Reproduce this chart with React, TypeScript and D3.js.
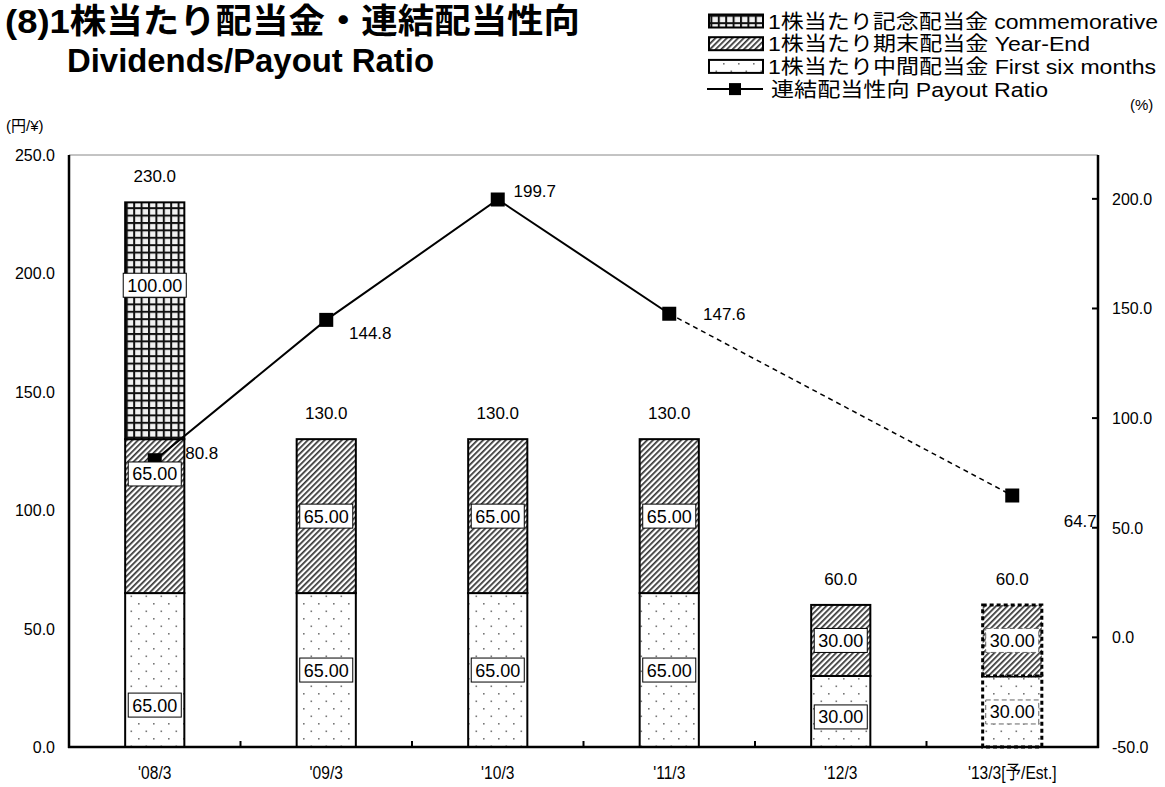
import React from "react";
import * as d3 from "d3";

const categories = ["'08/3", "'09/3", "'10/3", "'11/3", "'12/3", "'13/3[予/Est.]"];
const interimDiv = [65, 65, 65, 65, 30, 30];
const yearEndDiv = [65, 65, 65, 65, 30, 30];
const commemorativeDiv = [100, 0, 0, 0, 0, 0];
const totalDiv = [230, 130, 130, 130, 60, 60];
const isEstimate = [false, false, false, false, false, true];
const payoutRatio: (number | null)[] = [80.8, 144.8, 199.7, 147.6, null, 64.7];
const leftTicks = [0, 50, 100, 150, 200, 250];
const rightTicks = [-50, 0, 50, 100, 150, 200];
// where (in yen) each segment's value label sits
const interimLabelAt = [17.7, 32.5, 32.5, 32.5, 12.7, 14.8];
const yearEndLabelAt = [115.3, 97.5, 97.5, 97.5, 45, 45];
const commemorativeLabelAt = [195, 0, 0, 0, 0, 0];

const legendItems = [
  { label: "1株当たり記念配当金 commemorative", fill: "url(#pGrid)", kind: "box", len: 390 },
  { label: "1株当たり期末配当金 Year-End", fill: "url(#pHatch)", kind: "box", len: 322 },
  { label: "1株当たり中間配当金 First six months", fill: "url(#pDots)", kind: "box", len: 388 },
  { label: "連結配当性向 Payout Ratio", fill: "none", kind: "line", len: 277 },
];

// label offsets from the marker (px), style only
const ratioLabelOffsets: [number, number][] = [[47, -7], [44, 13], [37, -9], [55, 0], [0, 0], [68, 25]];

const FONT = "'Liberation Sans', Arial, 'Noto Sans CJK JP', sans-serif";

function textW(s: string, size: number) {
  let w = 0;
  for (const ch of s) {
    if (ch === ".") w += 0.278;
    else w += 0.556;
  }
  return w * size;
}

export default function App() {
  const W = 1165, H = 787;
  const x = d3.scaleBand<string>().domain(categories).range([69, 1098]).padding(0);
  const yL = d3.scaleLinear().domain([0, 250]).range([747, 155]);
  const yR = d3.scaleLinear().domain([-50, 220]).range([747, 155]);
  const bw = x.bandwidth() * 0.345;
  const cx = (i: number) => (x(categories[i]) as number) + x.bandwidth() / 2;

  const actualPts: [number, number][] = [];
  const estPts: [number, number][] = [];
  payoutRatio.forEach((v, i) => {
    if (v == null) return;
    if (!isEstimate[i]) actualPts.push([cx(i), yR(v)]);
  });
  const lastActual = actualPts[actualPts.length - 1];
  estPts.push(lastActual);
  payoutRatio.forEach((v, i) => {
    if (v != null && isEstimate[i]) estPts.push([cx(i), yR(v)]);
  });
  const line = d3.line<[number, number]>().x((d) => d[0]).y((d) => d[1]);

  const bars: any[] = [];
  const labels: any[] = [];
  categories.forEach((c, i) => {
    const x0 = cx(i) - bw / 2;
    const est = isEstimate[i];
    const segs = [
      { lo: 0, hi: interimDiv[i], fill: "url(#pDots)", v: interimDiv[i], at: interimLabelAt[i] },
      { lo: interimDiv[i], hi: interimDiv[i] + yearEndDiv[i], fill: "url(#pHatch)", v: yearEndDiv[i], at: yearEndLabelAt[i] },
      {
        lo: interimDiv[i] + yearEndDiv[i],
        hi: interimDiv[i] + yearEndDiv[i] + commemorativeDiv[i],
        fill: "url(#pGrid)",
        v: commemorativeDiv[i],
        at: commemorativeLabelAt[i],
      },
    ].filter((s) => s.v > 0);
    segs.forEach((s, k) => {
      bars.push(
        <rect
          key={`b${i}-${k}`}
          x={x0}
          y={yL(s.hi)}
          width={bw}
          height={yL(s.lo) - yL(s.hi)}
          fill={s.fill}
          stroke="#000"
          strokeWidth={est ? 3 : 2}
          strokeDasharray={est ? "4 3" : undefined}
        />
      );
    });
    segs.forEach((s, k) => {
      const t = s.v.toFixed(2);
      const tw = textW(t, 18) + 8;
      const yy = yL(s.at);
      labels.push(
        <g key={`l${i}-${k}`}>
          <rect
            x={cx(i) - tw / 2}
            y={yy - 12}
            width={tw}
            height={24}
            fill="#fff"
            stroke={est ? "#666" : "#000"}
            strokeWidth={1}
            strokeDasharray={est ? "5 3" : undefined}
          />
          <text x={cx(i)} y={yy + 6.5} textAnchor="middle" fontSize={18} fontFamily={FONT}>
            {t}
          </text>
        </g>
      );
    });
    labels.push(
      <text key={`t${i}`} x={cx(i)} y={yL(totalDiv[i]) - 20} textAnchor="middle" fontSize={17} fontFamily={FONT}>
        {totalDiv[i].toFixed(1)}
      </text>
    );
  });

  return (
    <svg width={W} height={H} style={{ position: "absolute", left: 0, top: 0, background: "#fff" }}>
      <defs>
        <pattern id="pGrid" patternUnits="userSpaceOnUse" width={7.4} height={7.4}>
          <rect width={7.4} height={7.4} fill="#111" />
          <rect x={2} y={2} width={5.4} height={5.4} fill="#f2f2f2" />
        </pattern>
        <pattern id="pHatch" patternUnits="userSpaceOnUse" width={4} height={4} patternTransform="rotate(45)">
          <rect width={4} height={4} fill="#fff" />
          <rect width={1.7} height={4} fill="#333" />
        </pattern>
        <pattern id="pDots" patternUnits="userSpaceOnUse" width={15} height={15}>
          <rect width={15} height={15} fill="#fff" />
          <rect x={3} y={3} width={1.6} height={1.6} fill="#777" />
          <rect x={10.5} y={10.5} width={1.6} height={1.6} fill="#777" />
        </pattern>
      </defs>

      {/* Title */}
      <text x={5} y={33} fontSize={34} fontWeight="bold" fontFamily={FONT} textLength={575} lengthAdjust="spacingAndGlyphs">
        (8)1株当たり配当金・連結配当性向
      </text>
      <text x={67} y={72} fontSize={33} fontWeight="bold" fontFamily={FONT} textLength={367} lengthAdjust="spacingAndGlyphs">
        Dividends/Payout Ratio
      </text>

      {/* Legend */}
      {legendItems.map((it, i) => {
        const yc = 21 + i * 22.7;
        return (
          <g key={`lg${i}`}>
            {it.kind === "box" ? (
              <rect x={709} y={yc - 6.5} width={54} height={13} fill={it.fill} stroke="#000" strokeWidth={2} />
            ) : (
              <g>
                <line x1={707} x2={763} y1={yc} y2={yc} stroke="#000" strokeWidth={2} />
                <rect x={729} y={yc - 6} width={12} height={12} fill="#000" />
              </g>
            )}
            <text
              x={it.kind === "box" ? 768 : 771}
              y={yc + 7.5}
              fontSize={20.5}
              fontFamily={FONT}
              textLength={it.len}
              lengthAdjust="spacingAndGlyphs"
            >
              {it.label}
            </text>
          </g>
        );
      })}

      {/* unit labels */}
      <text x={6} y={131} fontSize={15} fontFamily={FONT}>(円/¥)</text>
      <text x={1130} y={110} fontSize={15} fontFamily={FONT}>(%)</text>

      {/* plot top border */}
      <line x1={69} x2={1098} y1={155} y2={155} stroke="#888" strokeWidth={1} />

      {/* bars */}
      {bars}

      {/* axes */}
      <line x1={69} x2={69} y1={155} y2={748} stroke="#000" strokeWidth={2.5} />
      <line x1={1098} x2={1098} y1={155} y2={748} stroke="#000" strokeWidth={2.5} />
      <line x1={68} x2={1099} y1={747} y2={747} stroke="#000" strokeWidth={2.5} />
      {categories.slice(1).map((c) => (
        <line key={`xt${c}`} x1={x(c)} x2={x(c)} y1={747} y2={741} stroke="#000" strokeWidth={2} />
      ))}
      {rightTicks.map((t) => (
        <line key={`rt${t}`} x1={1092} x2={1098} y1={yR(t)} y2={yR(t)} stroke="#000" strokeWidth={2} />
      ))}
      {leftTicks.map((t) => (
        <text key={`lt${t}`} x={55} y={yL(t) + 6} textAnchor="end" fontSize={16} fontFamily={FONT}>
          {t.toFixed(1)}
        </text>
      ))}
      {rightTicks.map((t) => (
        <text key={`rtl${t}`} x={1112} y={yR(t) + 6} fontSize={16} fontFamily={FONT}>
          {t.toFixed(1)}
        </text>
      ))}
      {categories.map((c, i) => (
        <text
          key={`cl${i}`}
          transform={`translate(${cx(i)},${779}) scale(0.82,1)`}
          textAnchor="middle"
          fontSize={19}
          fontFamily={FONT}
        >
          {c}
        </text>
      ))}

      {/* payout ratio line */}
      <path d={line(actualPts) as string} fill="none" stroke="#000" strokeWidth={2} />
      <path d={line(estPts) as string} fill="none" stroke="#000" strokeWidth={1.5} strokeDasharray="5 4" />
      {payoutRatio.map((v, i) =>
        v == null ? null : (
          <rect key={`m${i}`} x={cx(i) - 7} y={yR(v) - 7} width={14} height={14} fill="#000" />
        )
      )}

      {/* segment labels */}
      {labels}

      {payoutRatio.map((v, i) =>
        v == null ? null : (
          <text
            key={`rl${i}`}
            x={cx(i) + ratioLabelOffsets[i][0]}
            y={yR(v) + ratioLabelOffsets[i][1] + 6}
            textAnchor="middle"
            fontSize={17}
            fontFamily={FONT}
          >
            {v.toFixed(1)}
          </text>
        )
      )}
    </svg>
  );
}
